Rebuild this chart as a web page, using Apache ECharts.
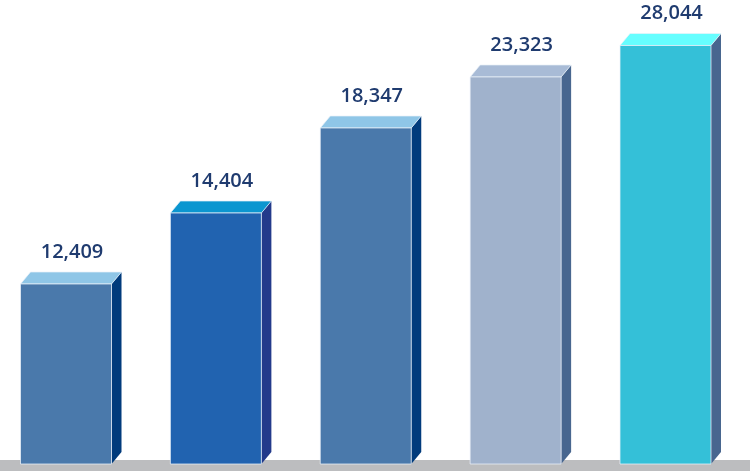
<!DOCTYPE html>
<html>
<head>
<meta charset="utf-8">
<script src="https://cdn.jsdelivr.net/npm/echarts@6/dist/echarts.min.js"></script>
<style>
html,body{margin:0;padding:0;background:#fff;}
#chart{width:750px;height:471px;}
</style>
</head>
<body>
<div id="chart"></div>
<script>
// Categories (no visible labels in the source)
const categories = ['1', '2', '3', '4', '5'];
// Values printed above the bars
const values = [12409, 14404, 18347, 23323, 28044];
// Apparent bar heights as drawn in the source (the source infographic is not to scale),
// expressed in the same units as the tallest bar's value
const barHeights = [12062, 16820, 22516, 25934, 28044];

const palette = [
  {front: '#4a79ab', top: '#8fc6e7', side: '#013b7c'},
  {front: '#2163b0', top: '#0b96d0', side: '#233a8b'},
  {front: '#4a79ab', top: '#8fc6e7', side: '#013b7c'},
  {front: '#a0b2cc', top: '#a8bbd6', side: '#48668f'},
  {front: '#34c0d8', top: '#66feff', side: '#48668f'}
];

const chart = echarts.init(document.getElementById('chart'));
const W = 91, DX = 10, DY = 12;

function fmt(v){ return v.toLocaleString('en-US'); }

chart.setOption({
  animation: false,
  grid: {left: 66, right: 84.5, top: 16.3, bottom: 7},
  xAxis: {type: 'category', data: categories, boundaryGap: false, show: false},
  yAxis: {type: 'value', min: 0, max: 30000, show: false},
  graphic: [{
    type: 'rect', z: 0, silent: true,
    shape: {x: 0, y: 460, width: 750, height: 11},
    style: {fill: '#bcbdbf'}
  }],
  series: [{
    type: 'custom',
    z: 5,
    data: barHeights.map((h, i) => [i, h, values[i]]),
    renderItem: function (params, api) {
      const i = api.value(0);
      const p = api.coord([i, api.value(1)]);
      const b = api.coord([i, 0]);
      const c = palette[i];
      const x = p[0] - W / 2, y = p[1], base = b[1];
      return {
        type: 'group',
        children: [
          {type: 'polygon', shape: {points: [[x + W, y], [x + W + DX, y - DY], [x + W + DX, base - DY], [x + W, base]]},
           style: {fill: c.side}},
          {type: 'polygon', shape: {points: [[x, y], [x + W, y], [x + W + DX, y - DY], [x + DX, y - DY]]},
           style: {fill: c.top, stroke: 'rgba(235,242,250,0.7)', lineWidth: 1}},
          {type: 'rect', shape: {x: x, y: y, width: W, height: base - y},
           style: {fill: c.front, stroke: 'rgba(235,242,250,0.75)', lineWidth: 1}},
          {type: 'text',
           style: {x: p[0] + 6, y: y - DY - 20, text: fmt(api.value(2)),
                   fill: '#1f3b6f', font: '600 20px "Open Sans", sans-serif',
                   align: 'center', verticalAlign: 'middle'}}
        ]
      };
    }
  }]
});
</script>
</body>
</html>
